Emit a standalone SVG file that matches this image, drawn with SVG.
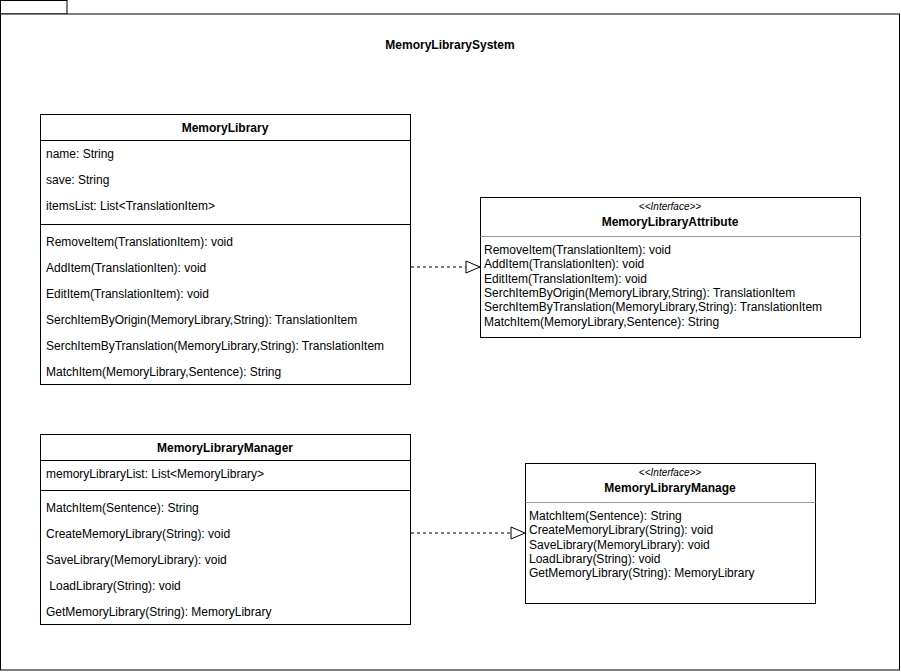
<svg xmlns="http://www.w3.org/2000/svg" width="901" height="672" viewBox="0 0 901 672">
<style>
text{font-family:"Liberation Sans",Arial,sans-serif;font-size:12px;fill:#000}
.b{font-weight:bold}
.i{font-style:italic;font-size:10px}
.m{text-anchor:middle}
.box{fill:#fff;stroke:#000;stroke-width:1}
.ln{stroke:#000;stroke-width:1}
.gl{stroke:#999;stroke-width:1}
.dash{fill:none;stroke:#000;stroke-width:1;stroke-dasharray:3 3}
</style>
<defs>
<marker id="tri" markerWidth="16" markerHeight="14" refX="15" refY="7" orient="auto" markerUnits="userSpaceOnUse">
<path d="M1,1 L15,7 L1,13 Z" fill="#fff" stroke="#000" stroke-width="1"/>
</marker>
</defs>
<rect width="901" height="672" fill="#fff"/>
<g id="frame">
<rect class="box" x="0.5" y="0.5" width="66.5" height="13.5"/>
<rect class="box" x="0.5" y="14" width="899" height="656"/>
<text class="b m" x="450" y="49">MemoryLibrarySystem</text>
</g>
<g id="connectors">
<path class="dash" d="M411,267 L480,267" marker-end="url(#tri)"/>
<path class="dash" d="M411,533 L525,533" marker-end="url(#tri)"/>
</g>
<g id="MemoryLibrary">
<rect class="box" x="40.5" y="114.5" width="370" height="270"/>
<line class="ln" x1="40.5" y1="140.5" x2="410.5" y2="140.5"/>
<line class="ln" x1="40.5" y1="224.5" x2="410.5" y2="224.5"/>
<text class="b m" x="225" y="132">MemoryLibrary</text>
<text x="46" y="158">name: String</text>
<text x="46" y="184">save: String</text>
<text x="46" y="210">itemsList: List&lt;TranslationItem&gt;</text>
<text x="46" y="246">RemoveItem(TranslationItem): void</text>
<text x="46" y="272">AddItem(TranslationIten): void</text>
<text x="46" y="298">EditItem(TranslationItem): void</text>
<text x="46" y="324">SerchItemByOrigin(MemoryLibrary,String): TranslationItem</text>
<text x="46" y="350">SerchItemByTranslation(MemoryLibrary,String): TranslationItem</text>
<text x="46" y="376">MatchItem(MemoryLibrary,Sentence): String</text>
</g>
<g id="MemoryLibraryAttribute">
<rect class="box" x="480.5" y="197.5" width="380" height="140"/>
<line class="gl" x1="480.5" y1="236.5" x2="860.5" y2="236.5"/>
<text class="i m" x="670" y="210">&lt;&lt;Interface&gt;&gt;</text>
<text class="b m" x="670" y="226">MemoryLibraryAttribute</text>
<text x="484" y="254">RemoveItem(TranslationItem): void</text>
<text x="484" y="268">AddItem(TranslationIten): void</text>
<text x="484" y="283">EditItem(TranslationItem): void</text>
<text x="484" y="297">SerchItemByOrigin(MemoryLibrary,String): TranslationItem</text>
<text x="484" y="311">SerchItemByTranslation(MemoryLibrary,String): TranslationItem</text>
<text x="484" y="326">MatchItem(MemoryLibrary,Sentence): String</text>
</g>
<g id="MemoryLibraryManager">
<rect class="box" x="40.5" y="434.5" width="370" height="190"/>
<line class="ln" x1="40.5" y1="460.5" x2="410.5" y2="460.5"/>
<line class="ln" x1="40.5" y1="490.5" x2="410.5" y2="490.5"/>
<text class="b m" x="225" y="452">MemoryLibraryManager</text>
<text x="46" y="478">memoryLibraryList: List&lt;MemoryLibrary&gt;</text>
<text x="46" y="512">MatchItem(Sentence): String</text>
<text x="46" y="538">CreateMemoryLibrary(String): void</text>
<text x="46" y="564">SaveLibrary(MemoryLibrary): void</text>
<text x="46" y="590" xml:space="preserve"> LoadLibrary(String): void</text>
<text x="46" y="616">GetMemoryLibrary(String): MemoryLibrary</text>
</g>
<g id="MemoryLibraryManage">
<rect class="box" x="525.5" y="463.5" width="290" height="140"/>
<line class="gl" x1="525.5" y1="502.5" x2="815.5" y2="502.5"/>
<text class="i m" x="670" y="476">&lt;&lt;Interface&gt;&gt;</text>
<text class="b m" x="670" y="492">MemoryLibraryManage</text>
<text x="529" y="520">MatchItem(Sentence): String</text>
<text x="529" y="534">CreateMemoryLibrary(String): void</text>
<text x="529" y="549">SaveLibrary(MemoryLibrary): void</text>
<text x="529" y="563">LoadLibrary(String): void</text>
<text x="529" y="577">GetMemoryLibrary(String): MemoryLibrary</text>
</g>
</svg>
